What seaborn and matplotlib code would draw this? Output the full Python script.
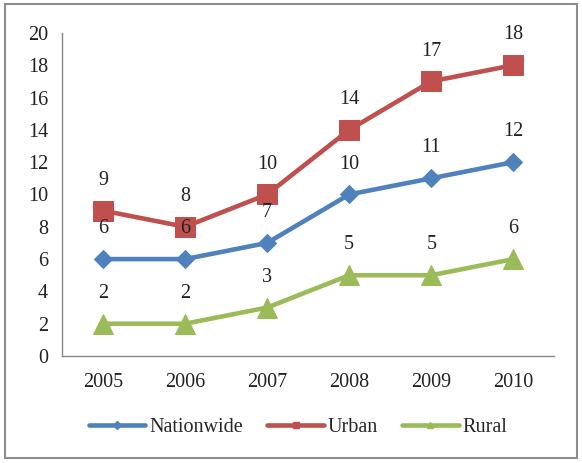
import matplotlib
matplotlib.use("Agg")
import matplotlib.pyplot as plt
import seaborn as sns
import pandas as pd
from matplotlib.patches import Rectangle
from matplotlib.lines import Line2D

years = ["2005", "2006", "2007", "2008", "2009", "2010"]
nationwide = [6, 6, 7, 10, 11, 12]
urban = [9, 8, 10, 14, 17, 18]
rural = [2, 2, 3, 5, 5, 6]
series_names = ["Nationwide", "Urban", "Rural"]

sns.set_theme(style="white")
plt.rcParams["font.family"] = ["Liberation Serif", "DejaVu Serif"]

df = pd.DataFrame({
    "year": years * 3,
    "value": nationwide + urban + rural,
    "series": [series_names[0]] * 6 + [series_names[1]] * 6 + [series_names[2]] * 6,
})
df["x"] = df["year"].map({y: i for i, y in enumerate(years)})

fig = plt.figure(figsize=(5.82, 4.63), dpi=100)
ax = fig.add_axes([0.1065, 0.231, 0.846, 0.698])

colors = {"Nationwide": "#4F81BD", "Urban": "#C0504D", "Rural": "#9BBB59"}
markers = {"Nationwide": "D", "Urban": "s", "Rural": "^"}
msizes = {"Nationwide": 9, "Urban": 14, "Rural": 15}

for name in series_names:
    sub = df[df["series"] == name]
    sns.lineplot(data=sub, x="x", y="value", ax=ax, color=colors[name],
                 linewidth=3.3, marker=markers[name], markersize=msizes[name],
                 markeredgecolor=colors[name], legend=False)
    for xv, yv in zip(sub["x"], sub["value"]):
        ax.annotate(str(yv), (xv, yv), xytext=(0, 15), textcoords="offset points",
                    ha="center", va="bottom", fontsize=14.5, color="#222222")

ax.set_xlim(-0.5, 5.5)
ax.set_ylim(0, 20)
ax.set_yticks(range(0, 21, 2))
ax.set_xticks(range(len(years)))
ax.set_xticklabels(years)
ax.set_xlabel("")
ax.set_ylabel("")
ax.tick_params(axis="both", labelsize=14.5, colors="#222222", length=0)
ax.tick_params(axis="x", pad=12)
ax.tick_params(axis="y", pad=10)
for s in ["top", "right"]:
    ax.spines[s].set_visible(False)
for s in ["left", "bottom"]:
    ax.spines[s].set_color("#888888")
    ax.spines[s].set_linewidth(1)

handles = [Line2D([], [], color=colors[n], linewidth=3.3, marker=markers[n],
                  markersize=4, markeredgecolor=colors[n]) for n in series_names]
ax.legend(handles, series_names, loc="center", bbox_to_anchor=(0.48, -0.22), ncol=3,
          frameon=False, fontsize=14.5, handlelength=2.8, handletextpad=0.2,
          columnspacing=1.2)

fig.patches.append(Rectangle((0.008, 0.01), 0.984, 0.982, transform=fig.transFigure,
                             fill=False, edgecolor="#8c8c8c", linewidth=1.5))

fig.savefig("out.png", dpi=100)
